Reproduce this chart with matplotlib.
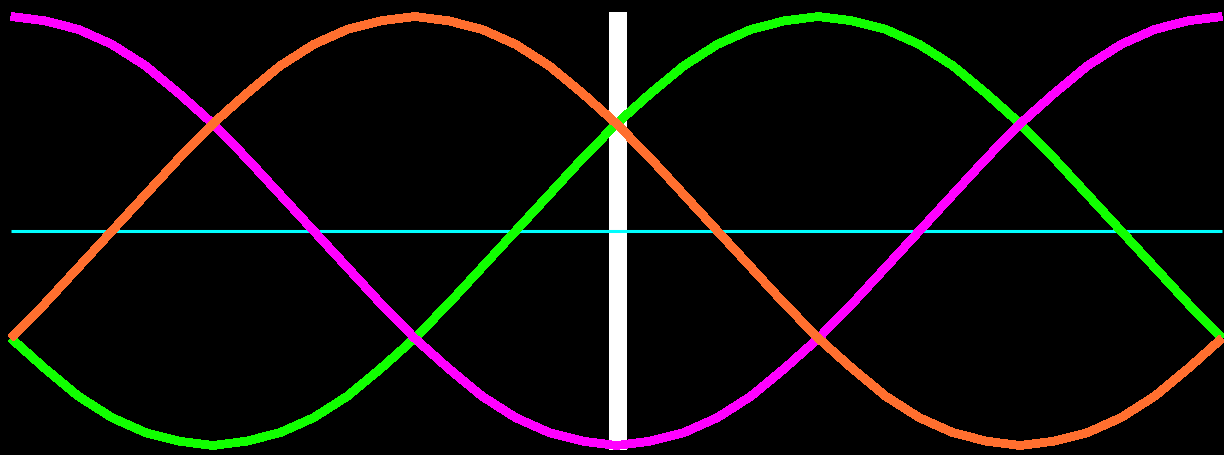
import matplotlib
matplotlib.use('Agg')
import matplotlib.pyplot as plt

# phase angle, degrees
angle = [0, 10, 20, 30, 40, 50, 60, 70, 80, 90, 100, 110, 120, 130, 140, 150, 160, 170, 180,
         190, 200, 210, 220, 230, 240, 250, 260, 270, 280, 290, 300, 310, 320, 330, 340, 350, 360]

# normalised phase values
phase_a = [1, .98, .94, .87, .77, .64, .5, .34, .17, 0, -.17, -.34, -.5, -.64, -.77, -.87, -.94, -.98, -1,
           -.98, -.94, -.87, -.77, -.64, -.5, -.34, -.17, 0, .17, .34, .5, .64, .77, .87, .94, .98, 1]
phase_b = [-.5, -.34, -.17, 0, .17, .34, .5, .64, .77, .87, .94, .98, 1, .98, .94, .87, .77, .64, .5,
           .34, .17, 0, -.17, -.34, -.5, -.64, -.77, -.87, -.94, -.98, -1, -.98, -.94, -.87, -.77, -.64, -.5]
phase_c = [-.5, -.64, -.77, -.87, -.94, -.98, -1, -.98, -.94, -.87, -.77, -.64, -.5, -.34, -.17, 0, .17, .34, .5,
           .64, .77, .87, .94, .98, 1, .98, .94, .87, .77, .64, .5, .34, .17, 0, -.17, -.34, -.5]

# current position cursor
cursor_angle = 180.4
cursor_width = 5.3

fig = plt.figure(figsize=(12.24, 4.55), dpi=100)
fig.patch.set_facecolor('black')
ax = fig.add_axes([0, 0, 1, 1])
ax.set_facecolor('black')

ax.bar(cursor_angle, 2.04, width=cursor_width, bottom=-1.02, color='white', zorder=1)
ax.plot([angle[0], angle[-1]], [0, 0], color='#00ffff', linewidth=2.2, solid_capstyle='butt', zorder=2)

ax.plot(angle, phase_c, color='#11ff00', linewidth=5.6, antialiased=False, solid_capstyle='butt', zorder=3)
ax.plot(angle, phase_a, color='#ff00ff', linewidth=5.6, antialiased=False, solid_capstyle='butt', zorder=4)
ax.plot(angle, phase_b, color='#ff6f2f', linewidth=5.6, antialiased=False, solid_capstyle='butt', zorder=5)

ax.set_xlim(-3.27, 360.59)
ax.set_ylim(-1.0443, 1.0769)
ax.axis('off')

plt.savefig('out.png', dpi=100, facecolor='black')
